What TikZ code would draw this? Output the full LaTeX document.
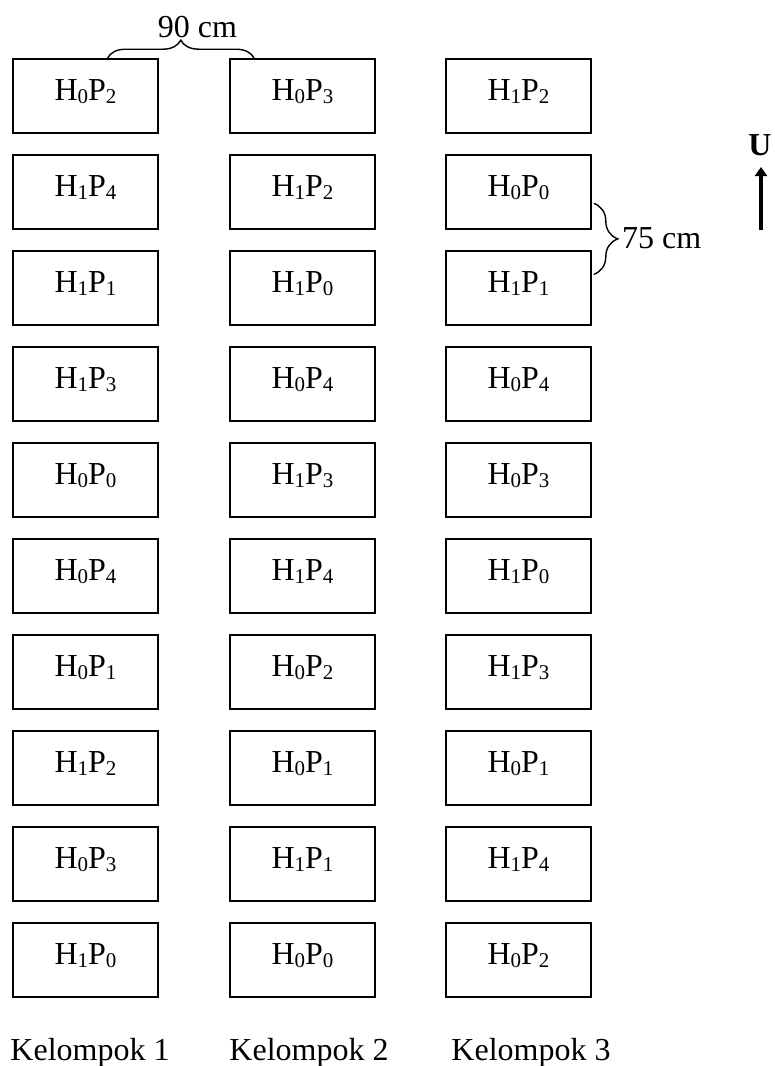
\documentclass[tikz,border=0pt]{standalone}
\usepackage{fontspec}
\setmainfont{Liberation Serif}
\usetikzlibrary{decorations.pathreplacing,arrows.meta,calc}
% lowered, smaller digit used in the plot codes
\newcommand\sbs[1]{\raisebox{-0.12em}{\fontsize{21}{21}\selectfont #1}}
\newcommand\plotcode[2]{H\sbs{#1}P\sbs{#2}}
\begin{document}
\begin{tikzpicture}[x=1pt,y=1pt,
  plotbox/.style={draw, line width=1.6pt, minimum width=145pt, minimum height=74pt,
    inner sep=0pt, text height=16pt, text depth=8pt, font=\fontsize{32}{38}\selectfont},
  lbl/.style={font=\fontsize{32}{38}\selectfont, inner sep=0pt},
  brc/.style={decorate, decoration={brace, amplitude=#1}, line width=1.4pt}]
\useasboundingbox (0,0) rectangle (775,-1066);

% field plots: three groups, ten plots each
\foreach \r/\a/\b/\c/\d/\e/\f in {
   1/0/2/0/3/1/2,
   2/1/4/1/2/0/0,
   3/1/1/1/0/1/1,
   4/1/3/0/4/0/4,
   5/0/0/1/3/0/3,
   6/0/4/1/4/1/0,
   7/0/1/0/2/1/3,
   8/1/2/0/1/0/1,
   9/0/3/1/1/1/4,
  10/1/0/0/0/0/2}{
  \node[plotbox] (b\r c1) at (85.5,{-96*\r})  {\plotcode{\a}{\b}};
  \node[plotbox] (b\r c2) at (302.5,{-96*\r}) {\plotcode{\c}{\d}};
  \node[plotbox] (b\r c3) at (518.5,{-96*\r}) {\plotcode{\e}{\f}};
}

% spacing between groups
\draw[brc=18pt] ($(b1c1.north west)!0.65!(b1c1.north east)$)
             -- ($(b1c2.north west)!0.17!(b1c2.north east)$);
\node[lbl, anchor=base] (w90) at (197.5,-37) {90 cm};

% spacing between plots
\draw[brc=24pt] ($(b2c3.north east)!0.65!(b2c3.south east) + (2,0)$)
             -- ($(b3c3.north east)!0.32!(b3c3.south east) + (2,0)$);
\node[lbl, anchor=base west] (w75) at (622,-248) {75 cm};

% north arrow
\node[lbl, font=\fontsize{32}{38}\selectfont\bfseries, anchor=base] (north) at (760,-155) {U};
\coordinate (arrtail) at (761,-230);
\coordinate (arrhead) at (761,-167);
\draw[line width=4pt, -{Triangle[length=9pt, width=12pt]}] (arrtail) -- (arrhead);

% group labels
\node[lbl, anchor=base] (k1) at (90,-1060)  {Kelompok 1};
\node[lbl, anchor=base] (k2) at (309,-1060) {Kelompok 2};
\node[lbl, anchor=base] (k3) at (531,-1060) {Kelompok 3};
\end{tikzpicture}
\end{document}
